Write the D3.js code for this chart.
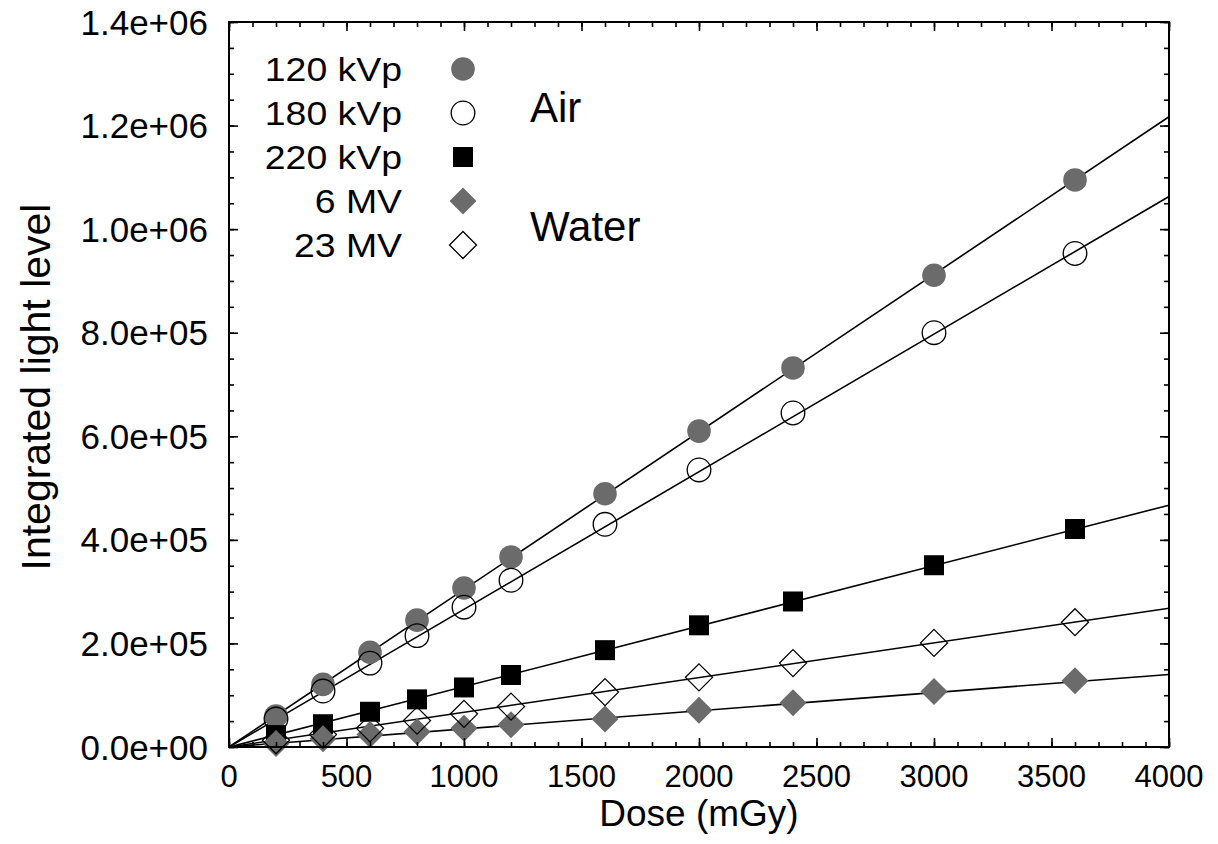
<!DOCTYPE html>
<html>
<head>
<meta charset="utf-8">
<script src="https://cdn.jsdelivr.net/npm/d3@7"></script>
<style>
  html, body { margin: 0; padding: 0; background: #fff; }
  svg { display: block; }
  text { font-family: "Liberation Sans", Arial, Helvetica, sans-serif; fill: #000; }
</style>
</head>
<body>
<svg id="chart" width="1218" height="844"></svg>
<script>
// Dose points (mGy) shared by every series
const doses = [200, 400, 600, 800, 1000, 1200, 1600, 2000, 2400, 3000, 3600];

// Integrated light level per beam quality
const kvp120 = [60000, 121000, 183000, 245000, 307000, 367000, 489000, 610000, 732000, 911000, 1095000];
const kvp180 = [54000, 108000, 162000, 215000, 270000, 322000, 430000, 535000, 645000, 800000, 953000];
const kvp220 = [23000, 44000, 68000, 92000, 115000, 139000, 187000, 235000, 281000, 351000, 421000];
const mv6    = [7000, 16000, 24000, 29500, 36000, 43000, 54000, 71000, 85500, 107000, 128000];
const mv23   = [13000, 24000, 36000, 51000, 64000, 78000, 106000, 134500, 162000, 201000, 241000];

// Linear fits through the origin, given as the fitted level at 4000 mGy
const fitAt4000 = [1217000, 1063000, 467000, 140000, 268000];

const seriesNames = ["120 kVp", "180 kVp", "220 kVp", "6 MV", "23 MV"];
const seriesValues = [kvp120, kvp180, kvp220, mv6, mv23];
const seriesShapes = ["circle", "circle", "square", "diamond", "diamond"];
const seriesFills  = ["#6b6b6b", "none", "#000", "#6b6b6b", "none"];

const xTicks = [0, 500, 1000, 1500, 2000, 2500, 3000, 3500, 4000];
const yTicks = [0, 200000, 400000, 600000, 800000, 1000000, 1200000, 1400000];
const yTickLabels = ["0.0e+00", "2.0e+05", "4.0e+05", "6.0e+05", "8.0e+05", "1.0e+06", "1.2e+06", "1.4e+06"];

const svg = d3.select("#chart");
const L = 229, R = 1169, T = 22, B = 747;

const x = d3.scaleLinear().domain([0, 4000]).range([L, R]);
const y = d3.scaleLinear().domain([0, 1400000]).range([B, T]);

// marker paths
function markerPath(shape) {
  if (shape === "circle") return d3.symbol(d3.symbolCircle, Math.PI * 11.8 * 11.8)();
  if (shape === "square") return d3.symbol(d3.symbolSquare, 20 * 20)();
  const h = 13.5;
  return `M0,${-h}L${h},0L0,${h}L${-h},0Z`;
}

// fit lines
const lineGroup = svg.append("g");
fitAt4000.forEach(v => {
  lineGroup.append("line")
    .attr("x1", x(0)).attr("y1", y(0))
    .attr("x2", x(4000)).attr("y2", y(v))
    .attr("stroke", "#000").attr("stroke-width", 1.6);
});

// data markers
seriesValues.forEach((vals, i) => {
  const g = svg.append("g");
  g.selectAll("path").data(vals).join("path")
    .attr("d", markerPath(seriesShapes[i]))
    .attr("transform", (d, j) => `translate(${x(doses[j])},${y(d)})`)
    .attr("fill", seriesFills[i])
    .attr("stroke", seriesFills[i] === "none" ? "#000" : "none")
    .attr("stroke-width", 1.3);
});

// axes: ticks inside on all four sides
const axes = svg.append("g");
const majorLen = 9, minorLen = 5;
function drawAxis(axisGen, tx, ty) {
  const g = axes.append("g").attr("transform", `translate(${tx},${ty})`).call(axisGen);
  g.select(".domain").remove();
  g.selectAll("line").attr("stroke", "#000").attr("stroke-width", 1.6);
  g.selectAll("text").remove();
  return g;
}
const xMinor = d3.range(0, 4001, 100);
const yMinor = d3.range(0, 1400001, 50000);
drawAxis(d3.axisBottom(x).tickValues(xMinor).tickSize(-minorLen), 0, B);
drawAxis(d3.axisBottom(x).tickValues(xTicks).tickSize(-majorLen), 0, B);
drawAxis(d3.axisTop(x).tickValues(xMinor).tickSize(-minorLen), 0, T);
drawAxis(d3.axisTop(x).tickValues(xTicks).tickSize(-majorLen), 0, T);
drawAxis(d3.axisLeft(y).tickValues(yMinor).tickSize(-minorLen), L, 0);
drawAxis(d3.axisLeft(y).tickValues(yTicks).tickSize(-majorLen), L, 0);
drawAxis(d3.axisRight(y).tickValues(yMinor).tickSize(-minorLen), R, 0);
drawAxis(d3.axisRight(y).tickValues(yTicks).tickSize(-majorLen), R, 0);

// frame
svg.append("rect")
  .attr("x", L).attr("y", T).attr("width", R - L).attr("height", B - T)
  .attr("fill", "none").attr("stroke", "#000").attr("stroke-width", 2);

// tick labels
svg.append("g").selectAll("text").data(xTicks).join("text")
  .attr("x", d => x(d)).attr("y", 787)
  .attr("text-anchor", "middle")
  .attr("font-size", 31)
  .text(d => d);

svg.append("g").selectAll("text").data(yTicks).join("text")
  .attr("x", 208).attr("y", d => y(d))
  .attr("dy", "0.36em")
  .attr("text-anchor", "end")
  .attr("font-size", 35)
  .text((d, i) => yTickLabels[i]);

// axis titles
svg.append("text")
  .attr("x", (L + R) / 2).attr("y", 826)
  .attr("text-anchor", "middle")
  .attr("font-size", 37)
  .text("Dose (mGy)");

svg.append("text")
  .attr("transform", "translate(50,387) rotate(-90)")
  .attr("text-anchor", "middle")
  .attr("font-size", 41)
  .text("Integrated light level");

// legend
const legendRows = [69, 113, 157, 201, 245];
const legend = svg.append("g");
seriesNames.forEach((name, i) => {
  legend.append("text")
    .attr("transform", `translate(402,${legendRows[i]}) scale(1.1,1)`)
    .attr("dy", "0.36em")
    .attr("text-anchor", "end")
    .attr("font-size", 34)
    .text(name);
  legend.append("path")
    .attr("d", markerPath(seriesShapes[i]))
    .attr("transform", `translate(463,${legendRows[i]})`)
    .attr("fill", seriesFills[i])
    .attr("stroke", seriesFills[i] === "none" ? "#000" : "none")
    .attr("stroke-width", 1.3);
});

// medium annotations
legend.append("text")
  .attr("x", 530).attr("y", 122)
  .attr("font-family", "'Open Sans', 'Noto Sans', sans-serif")
  .attr("font-size", 42)
  .text("Air");
legend.append("text")
  .attr("x", 530).attr("y", 241)
  .attr("font-family", "'Open Sans', 'Noto Sans', sans-serif")
  .attr("font-size", 42)
  .text("Water");
</script>
</body>
</html>
